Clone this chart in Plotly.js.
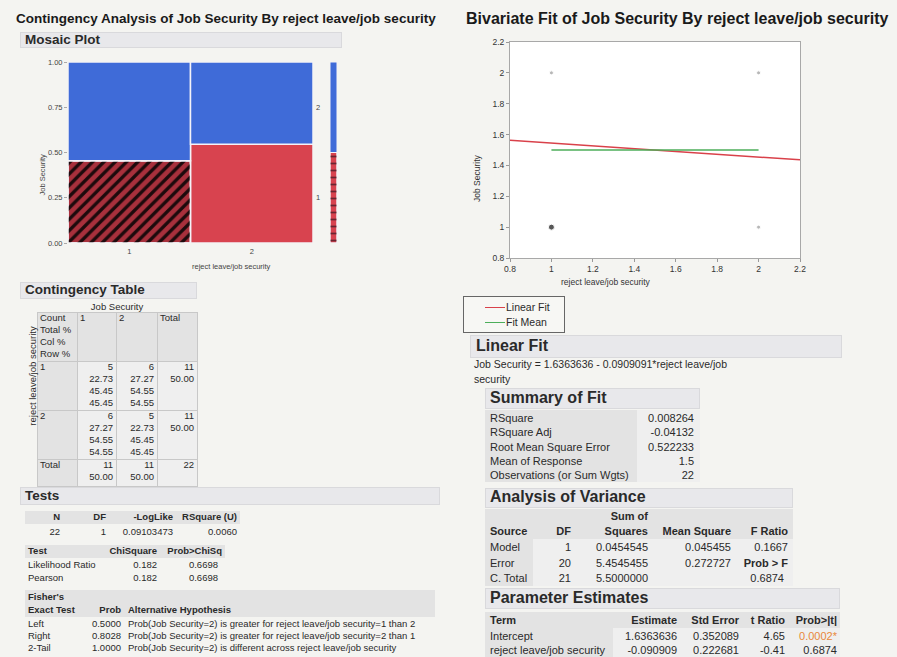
<!DOCTYPE html>
<html><head><meta charset="utf-8">
<script src="https://cdn.plot.ly/plotly-3.0.1.min.js"></script>
<style>
html,body{margin:0;padding:0;background:#f4f4f1;}
#page{position:relative;width:897px;height:657px;overflow:hidden;font-family:"Liberation Sans",Arial,Helvetica,sans-serif;color:#222;}
.t{position:absolute;white-space:nowrap;line-height:1;z-index:3;}
.box{position:absolute;box-sizing:border-box;z-index:0;}
#chart{position:absolute;left:0;top:0;width:897px;height:657px;z-index:1;}
</style></head><body><div id="page"><div id="chart"></div></div>
<script>
// ---------------- DATA ----------------
const rejectLevels = ['1', '2'];
const jobSecurityLevels = ['1', '2'];
const countsReject1 = [5, 6];          // Job Security = 1, 2
const countsReject2 = [6, 5];
const selectedCell = [0, 0];           // reject=1, Job Security=1 rows are selected (hatched)
const mosaicTicks = ['0.00', '0.25', '0.50', '0.75', '1.00'];

const tableHeaderLabels = ['Count', 'Total %', 'Col %', 'Row %'];
const row1Cells = [['5', '22.73', '45.45', '45.45'], ['6', '27.27', '54.55', '54.55'], ['11', '50.00']];
const row2Cells = [['6', '27.27', '54.55', '54.55'], ['5', '22.73', '45.45', '45.45'], ['11', '50.00']];
const totalCells = [['11', '50.00'], ['11', '50.00'], ['22']];

const testsHeader = ['N', 'DF', '-LogLike', 'RSquare (U)'];
const testsValues = ['22', '1', '0.09103473', '0.0060'];
const chiTests = ['Likelihood Ratio', 'Pearson'];
const chiSquare = ['0.182', '0.182'];
const chiProb = ['0.6698', '0.6698'];
const fisherTests = ['Left', 'Right', '2-Tail'];
const fisherProb = ['0.5000', '0.8028', '1.0000'];
const fisherHyp = [
  'Prob(Job Security=2) is greater for reject leave/job security=1 than 2',
  'Prob(Job Security=2) is greater for reject leave/job security=2 than 1',
  'Prob(Job Security=2) is different across reject leave/job security'
];

const scatterX = [1, 1, 2, 2];
const scatterY = [2, 1, 2, 1];
const scatterSelected = [false, true, false, false];
const fitX = [0.8, 2.2];
const fitY = [1.5636364, 1.4363636];
const meanX = [1, 2];
const meanY = [1.5, 1.5];
const axisTickVals = [0.8, 1, 1.2, 1.4, 1.6, 1.8, 2, 2.2];
const axisTickText = ['0.8', '1', '1.2', '1.4', '1.6', '1.8', '2', '2.2'];
const legendNames = ['Linear Fit', 'Fit Mean'];

const equationLines = ['Job Security = 1.6363636 - 0.0909091*reject leave/job', 'security'];
const summaryLabels = ['RSquare', 'RSquare Adj', 'Root Mean Square Error', 'Mean of Response', 'Observations (or Sum Wgts)'];
const summaryValues = ['0.008264', '-0.04132', '0.522233', '1.5', '22'];

const anovaSources = ['Model', 'Error', 'C. Total'];
const anovaDF = ['1', '20', '21'];
const anovaSS = ['0.0454545', '5.4545455', '5.5000000'];
const anovaMS = ['0.045455', '0.272727', ''];
const anovaF = ['0.1667', 'Prob > F', '0.6874'];

const paramTerms = ['Intercept', 'reject leave/job security'];
const paramEstimate = ['1.6363636', '-0.090909'];
const paramStdErr = ['0.352089', '0.222681'];
const paramT = ['4.65', '-0.41'];
const paramProb = ['0.0002*', '0.6874'];

// ---------------- HELPERS ----------------
const page = document.getElementById('page');
const W = 897, H = 657;
function T(x, y, s, o) {
  o = o || {};
  const d = document.createElement('div');
  d.className = 't';
  d.textContent = s;
  d.style.fontSize = (o.size || 10) + 'px';
  if (o.bold) d.style.fontWeight = 'bold';
  d.style.color = o.color || '#2a2a2a';
  d.style.left = x + 'px';
  d.style.top = y + 'px';
  const a = o.anchor || 'l';
  const tx = a === 'l' ? '0' : (a === 'r' ? '-100%' : '-50%');
  d.style.transform = 'translate(' + tx + ',-50%)' + (o.rot ? ' rotate(' + o.rot + 'deg)' : '');
  if (o.rot) d.style.transformOrigin = '50% 50%';
  page.appendChild(d);
  return d;
}
function B(x0, y0, x1, y1, bg, border, z) {
  const d = document.createElement('div');
  d.className = 'box';
  d.style.left = x0 + 'px'; d.style.top = y0 + 'px';
  d.style.width = (x1 - x0) + 'px'; d.style.height = (y1 - y0) + 'px';
  d.style.background = bg || 'transparent';
  if (border) d.style.border = border;
  if (z) d.style.zIndex = z;
  page.appendChild(d);
}
const HDR = '#e8e8eb', HB = '1px solid #d9d9dc';
const G = '#e3e3e3', L = '#efefef', CB = '1px solid #c8c8c8';

// ---------------- LEFT: titles ----------------
T(16, 19, 'Contingency Analysis of Job Security By reject leave/job security', {size: 13.5, bold: true, color: '#1a1a1a'});
B(20, 32, 342, 48, HDR, HB);
T(25, 40, 'Mosaic Plot', {size: 13.5, bold: true});

// Contingency table
B(20, 282, 197, 299, HDR, HB);
T(25, 290, 'Contingency Table', {size: 13.5, bold: true});
T(117, 307, 'Job Security', {size: 9.5, anchor: 'c'});
T(33, 376, 'reject leave/job security', {size: 9.5, anchor: 'c', rot: -90});
const colX = [37, 77, 116, 157, 197];
const rowY = [312, 361, 410, 459, 486];
for (let r = 0; r < 4; r++) {
  for (let c = 0; c < 4; c++) {
    const isHead = (r === 0 || c === 0);
    B(colX[c], rowY[r], colX[c + 1] + 1, rowY[r + 1] + 1, isHead ? G : L, CB);
  }
}
tableHeaderLabels.forEach((s, i) => T(40, 318 + i * 12, s, {size: 9.5}));
T(80, 318, jobSecurityLevels[0], {size: 9.5});
T(119, 318, jobSecurityLevels[1], {size: 9.5});
T(160, 318, 'Total', {size: 9.5});
T(40, 367, rejectLevels[0], {size: 9.5});
T(40, 416, rejectLevels[1], {size: 9.5});
T(40, 465, 'Total', {size: 9.5});
const rights = [113, 154, 194];
[row1Cells, row2Cells, totalCells].forEach((row, ri) => {
  row.forEach((cell, ci) => {
    cell.forEach((s, li) => T(rights[ci], rowY[ri + 1] + 6 + li * 12, s, {size: 9.5, anchor: 'r'}));
  });
});

// Tests
B(20, 487, 440, 505, HDR, HB);
T(25, 496, 'Tests', {size: 13.5, bold: true});
B(25, 511, 240, 524, G);
const tRight = [60, 106, 173, 237];
testsHeader.forEach((s, i) => T(tRight[i], 517, s, {size: 9.5, bold: true, anchor: 'r'}));
testsValues.forEach((s, i) => T(tRight[i], 532, s, {size: 9.5, anchor: 'r'}));
B(25, 545, 225, 558, G);
T(28, 551, 'Test', {size: 9.5, bold: true});
T(157, 551, 'ChiSquare', {size: 9.5, bold: true, anchor: 'r'});
T(222, 551, 'Prob>ChiSq', {size: 9.5, bold: true, anchor: 'r'});
chiTests.forEach((s, i) => {
  T(28, 565 + i * 13, s, {size: 9.5});
  T(157, 565 + i * 13, chiSquare[i], {size: 9.5, anchor: 'r'});
  T(218, 565 + i * 13, chiProb[i], {size: 9.5, anchor: 'r'});
});
B(25, 590, 435, 617, G);
T(28, 597, "Fisher's", {size: 9.5, bold: true});
T(28, 610, 'Exact Test', {size: 9.5, bold: true});
T(121, 610, 'Prob', {size: 9.5, bold: true, anchor: 'r'});
T(128, 610, 'Alternative Hypothesis', {size: 9.5, bold: true});
fisherTests.forEach((s, i) => {
  T(28, 624 + i * 12, s, {size: 9.5});
  T(121, 624 + i * 12, fisherProb[i], {size: 9.5, anchor: 'r'});
  T(128, 624 + i * 12, fisherHyp[i], {size: 9.5});
});

// ---------------- RIGHT ----------------
T(466, 19, 'Bivariate Fit of Job Security By reject leave/job security', {size: 16, bold: true, color: '#1a1a1a'});

// legend box
const RED_LINE = '#d9414a', GREEN_LINE = '#4cae5a';
B(463, 296, 565, 333, 'rgba(255,255,255,0.25)', '1px solid #666');
B(485, 306.5, 505, 308, RED_LINE, null, 2);
B(485, 321.5, 505, 323, GREEN_LINE, null, 2);
T(506, 307, legendNames[0], {size: 10.5});
T(506, 322, legendNames[1], {size: 10.5});

B(470, 335, 842, 358, HDR, HB);
T(476, 346, 'Linear Fit', {size: 16, bold: true});
equationLines.forEach((s, i) => T(474, 364 + i * 15, s, {size: 10.5}));

B(485, 388, 700, 409, HDR, HB);
T(490, 398, 'Summary of Fit', {size: 16, bold: true});
B(485, 410, 637, 482, G);
B(637, 410, 700, 482, L);
summaryLabels.forEach((s, i) => {
  T(490, 418 + i * 14.3, s, {size: 11});
  T(694, 418 + i * 14.3, summaryValues[i], {size: 11, anchor: 'r'});
});

B(485, 488, 793, 508, HDR, HB);
T(490, 497, 'Analysis of Variance', {size: 16, bold: true});
B(485, 509, 793, 539, G);
B(485, 539, 533, 586, G);
B(533, 539, 793, 586, L);
T(648, 516, 'Sum of', {size: 11, bold: true, anchor: 'r'});
const aRight = [571, 648, 731, 788];
T(490, 531, 'Source', {size: 11, bold: true});
['DF', 'Squares', 'Mean Square', 'F Ratio'].forEach((s, i) => T(aRight[i], 531, s, {size: 11, bold: true, anchor: 'r'}));
anovaSources.forEach((s, i) => {
  const y = 547 + i * 15.5;
  T(490, y, s, {size: 11});
  T(aRight[0], y, anovaDF[i], {size: 11, anchor: 'r'});
  T(aRight[1], y, anovaSS[i], {size: 11, anchor: 'r'});
  T(aRight[2], y, anovaMS[i], {size: 11, anchor: 'r'});
  T(i === 2 ? 784 : aRight[3], y, anovaF[i], {size: 11, anchor: 'r', bold: anovaF[i] === 'Prob > F'});
});

B(485, 588, 840, 609, HDR, HB);
T(490, 598, 'Parameter Estimates', {size: 16, bold: true});
B(485, 612, 840, 628, G);
B(485, 628, 613, 657, G);
B(613, 628, 840, 657, L);
const pRight = [677, 739, 785, 837];
T(490, 620, 'Term', {size: 11, bold: true});
['Estimate', 'Std Error', 't Ratio', 'Prob>|t|'].forEach((s, i) => T(pRight[i], 620, s, {size: 11, bold: true, anchor: 'r'}));
paramTerms.forEach((s, i) => {
  const y = 636 + i * 14;
  T(490, y, s, {size: 11});
  T(pRight[0], y, paramEstimate[i], {size: 11, anchor: 'r'});
  T(pRight[1], y, paramStdErr[i], {size: 11, anchor: 'r'});
  T(pRight[2], y, paramT[i], {size: 11, anchor: 'r'});
  T(pRight[3], y, paramProb[i], {size: 11, anchor: 'r', color: paramProb[i].indexOf('*') >= 0 ? '#e8883a' : '#2a2a2a'});
});

// ---------------- PLOTLY ----------------
const dx = (x) => x / W, dy = (y) => 1 - y / H;
const counts = [countsReject1, countsReject2];
const N = counts.reduce((a, r) => a + r[0] + r[1], 0);
const colTot = counts.map(r => r[0] + r[1]);
let acc = 0;
const colCenter = [], colWidth = [];
colTot.forEach(t => { const w = t / N; colCenter.push(acc + w / 2); colWidth.push(w); acc += w; });
const shareJS1 = counts.map((r, i) => r[0] / colTot[i]);
const shareJS2 = counts.map((r, i) => r[1] / colTot[i]);
const margJS1 = (countsReject1[0] + countsReject2[0]) / N;
const margJS2 = (countsReject1[1] + countsReject2[1]) / N;

const RED = '#d8434f', DRED = '#a8303c', BLUE = '#3f6bd8', GAP = '#f4f2f8';
const sc = selectedCell[0];
const traces = [
  // mosaic: Job Security = 1 (bottom)
  {type: 'bar', x: colCenter, y: shareJS1, base: [0, 0], width: colWidth, xaxis: 'x', yaxis: 'y', showlegend: false, hoverinfo: 'skip',
   marker: {color: colCenter.map((c, i) => i === sc ? DRED : RED), line: {color: GAP, width: 1.5}}},
  // hatch overlay for selected rows
  {type: 'bar', x: [colCenter[sc]], y: [shareJS1[sc]], base: [0], width: [colWidth[sc]], xaxis: 'x', yaxis: 'y', showlegend: false, hoverinfo: 'skip',
   marker: {color: '#1c0a0c', line: {color: GAP, width: 1.5},
            pattern: {shape: '/', fillmode: 'replace', size: 8, solidity: 0.42}}},
  // mosaic: Job Security = 2 (top)
  {type: 'bar', x: colCenter, y: shareJS2, base: shareJS1, width: colWidth, xaxis: 'x', yaxis: 'y', showlegend: false, hoverinfo: 'skip',
   marker: {color: BLUE, line: {color: GAP, width: 1.5}}},
  // marginal bar
  {type: 'bar', x: [0.5], y: [margJS1], base: [0], width: [1], xaxis: 'x2', yaxis: 'y2', showlegend: false, hoverinfo: 'skip',
   marker: {color: RED, line: {color: GAP, width: 1}}},
  {type: 'bar', x: [0.5], y: [margJS1], base: [0], width: [1], xaxis: 'x2', yaxis: 'y2', showlegend: false, hoverinfo: 'skip',
   marker: {color: '#6a2430', line: {color: GAP, width: 1},
            pattern: {shape: '-', fillmode: 'replace', size: 7, solidity: 0.25}}},
  {type: 'bar', x: [0.5], y: [margJS2], base: [margJS1], width: [1], xaxis: 'x2', yaxis: 'y2', showlegend: false, hoverinfo: 'skip',
   marker: {color: BLUE, line: {color: GAP, width: 1}}},
  // bivariate
  {type: 'scatter', mode: 'markers', x: scatterX, y: scatterY, xaxis: 'x3', yaxis: 'y3', showlegend: false, hoverinfo: 'skip',
   marker: {size: scatterSelected.map(s => s ? 6 : 4), color: scatterSelected.map(s => s ? '#111' : '#9a9a9a')}},
  {type: 'scatter', mode: 'lines', x: fitX, y: fitY, xaxis: 'x3', yaxis: 'y3', name: legendNames[0], showlegend: false,
   line: {color: RED_LINE, width: 1.5}},
  {type: 'scatter', mode: 'lines', x: meanX, y: meanY, xaxis: 'x3', yaxis: 'y3', name: legendNames[1], showlegend: false,
   line: {color: GREEN_LINE, width: 1.5}}
];

const tickF = {family: 'Liberation Sans, Arial, sans-serif', size: 7.5, color: '#444'};
const tickF2 = {family: 'Liberation Sans, Arial, sans-serif', size: 8.5, color: '#333'};
const layout = {
  width: W, height: H, margin: {l: 0, r: 0, t: 0, b: 0, pad: 0},
  paper_bgcolor: 'rgba(0,0,0,0)', plot_bgcolor: '#ffffff',
  barmode: 'overlay', bargap: 0, showlegend: false,
  font: {family: 'Liberation Sans, Arial, sans-serif'},
  xaxis: {domain: [dx(68), dx(313)], range: [0, 1], tickvals: colCenter, ticktext: rejectLevels,
          ticks: '', tickfont: tickF, showgrid: false, zeroline: false, showline: false, fixedrange: true, ticklabelstandoff: 2},
  yaxis: {domain: [dy(243), dy(62)], range: [0, 1], tickvals: [0, 0.25, 0.5, 0.75, 1], ticktext: mosaicTicks,
          ticks: 'outside', ticklen: 3, tickcolor: '#aaa', tickfont: tickF, showgrid: false, zeroline: false, showline: false, fixedrange: true},
  xaxis2: {domain: [dx(330), dx(337)], range: [0, 1], showticklabels: false, ticks: '', showgrid: false, zeroline: false, showline: false, anchor: 'y2'},
  yaxis2: {domain: [dy(243), dy(62)], range: [0, 1], showticklabels: false, ticks: '', showgrid: false, zeroline: false, showline: false, anchor: 'x2'},
  xaxis3: {domain: [dx(510), dx(800)], range: [0.8, 2.2], tickvals: axisTickVals, ticktext: axisTickText, anchor: 'y3',
           ticks: 'outside', ticklen: 3, tickcolor: '#999', tickfont: tickF2, showgrid: false, zeroline: false,
           showline: true, linecolor: '#a8a8a8', mirror: true, fixedrange: true},
  yaxis3: {domain: [dy(258), dy(42)], range: [0.8, 2.2], tickvals: axisTickVals, ticktext: axisTickText, anchor: 'x3',
           ticks: 'outside', ticklen: 3, tickcolor: '#999', tickfont: tickF2, showgrid: false, zeroline: false,
           showline: true, linecolor: '#a8a8a8', mirror: true, fixedrange: true},
  annotations: [
    {xref: 'paper', yref: 'paper', x: dx(35), y: dy(152), text: 'Job Security', textangle: -90, showarrow: false, font: {size: 7.5, color: '#444'}},
    {xref: 'paper', yref: 'paper', x: dx(190), y: dy(267), text: 'reject leave/job security', showarrow: false, font: {size: 7.5, color: '#444'}},
    {xref: 'paper', yref: 'y', x: dx(318), y: margJS1 + margJS2 / 2, text: jobSecurityLevels[1], showarrow: false, font: {size: 7.5, color: '#444'}},
    {xref: 'paper', yref: 'y', x: dx(318), y: margJS1 / 2, text: jobSecurityLevels[0], showarrow: false, font: {size: 7.5, color: '#444'}},
    {xref: 'paper', yref: 'paper', x: dx(477), y: dy(152), text: 'Job Security', textangle: -90, showarrow: false, font: {size: 8.5, color: '#333'}},
    {xref: 'paper', yref: 'paper', x: dx(653), y: dy(282), text: 'reject leave/job security', showarrow: false, font: {size: 8.5, color: '#333'}}
  ]
};
Plotly.newPlot('chart', traces, layout, {staticPlot: true, displayModeBar: false});
</script></body></html>
